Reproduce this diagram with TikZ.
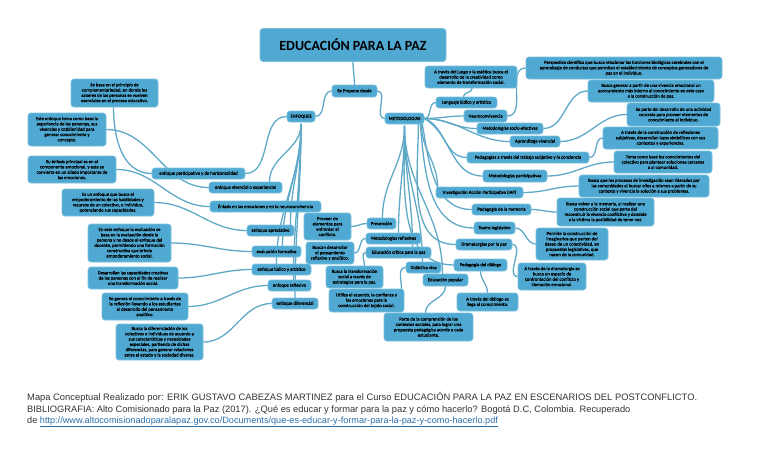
\documentclass[tikz,border=0pt]{standalone}
\usepackage{fontspec}
\setmainfont{Liberation Sans}
\newfontfamily\mapfont[FakeBold=0.6]{Carlito}
\newfontfamily\titlefont{Carlito}
\usetikzlibrary{backgrounds}
\definecolor{boxfill}{HTML}{4FA9D2}
\definecolor{boxedge}{HTML}{7CC0DC}
\definecolor{linkline}{HTML}{5FA9C8}
\definecolor{urlblue}{HTML}{2B6FA8}
\definecolor{foot}{HTML}{333333}
\tikzset{
  mapbox/.style={draw=boxedge,line width=0.7pt,fill=boxfill,rounded corners=3pt,inner sep=0pt,align=center,text=black},
  conn/.style={draw=linkline,line width=1.3pt,line cap=round},
  foottext/.style={anchor=base west,inner sep=0pt,text=foot}
}
% name, x1, y1, x2, y2, text
\newcommand{\nd}[6]{%
  \pgfmathsetmacro{\cx}{(#2+#4)/2}\pgfmathsetmacro{\cy}{(#3+#5)/2}%
  \pgfmathsetmacro{\ww}{#4-#2}\pgfmathsetmacro{\hh}{#5-#3}%
  \node[mapbox,minimum width=\ww pt,minimum height=\hh pt,font=\mapfont\fontsize{4.7}{5.3}\selectfont] (#1) at (\cx,\cy) {#6};}
\newcommand{\cv}[3][]{\draw[conn,#1] #2 to #3;}
\begin{document}
\begin{tikzpicture}[x=1pt,y=-1pt]
\useasboundingbox (0,0) rectangle (768,466);

\node[mapbox,minimum width=186pt,minimum height=33pt,font=\titlefont\bfseries\fontsize{14}{16}\selectfont] (title) at (353,45) {EDUCACIÓN PARA LA PAZ};
\nd{prop}{332}{85}{377}{97}{Se Propone desde}
\nd{enf}{287}{111}{315}{122}{ENFOQUES}
\nd{met}{385}{113}{424}{124}{METODOLOGIAS}

\nd{la}{71}{79}{158}{107}{Se basa en el principio de\\complementariedad, en donde los\\saberes de las personas se vuelven\\esenciales en el proceso educativo.}
\nd{lb}{28}{113}{106}{146}{Este enfoque toma como base la\\experiencia de las personas, sus\\vivencias y cotidianidad para\\generar conocimiento y\\concepto.}
\nd{lc}{28}{156}{116}{183}{Su énfasis principal es en el\\componente emocional, y este se\\convierte en un aliado importante de\\las emociones.}
\nd{ld}{62}{189}{154}{216}{Es un enfoque que busca el\\empoderamiento de las habilidades y\\recursos de un colectivo, o individuo,\\potenciando sus capacidades.}
\nd{le}{88}{224}{171}{262}{En este enfoque la evaluación se\\basa en la evaluación desde la\\persona y no desde el enfoque del\\docente, permitiendo una formación\\constructiva que brinda\\empoderamiento social.}
\nd{lf}{88}{267}{178}{289}{Desarrollan las capacidades creativas\\de las personas con el fin de realizar\\una transformación social.}
\nd{lg}{102}{293}{188}{320}{Se genera el conocimiento a través de\\la reflexión llevando a los estudiantes\\al desarrollo del pensamiento\\analítico.}
\nd{lh}{116}{324}{203}{360}{Busca la diferenciación de los\\colectivos e individuos de acuerdo a\\sus características y necesidades\\especiales, partiendo de dichas\\diferencias, para generar relaciones\\entre el estado y la sociedad diversa.}

\nd{ea}{152}{168}{245}{179}{enfoque participativo y de horizontalidad}
\nd{eb}{209}{182}{282}{193}{enfoque vivencial o experiencial}
\nd{ec}{210}{201}{321}{212}{Énfasis en las emociones y en la neuroconvivencia}
\nd{ed}{247}{225}{294}{236}{enfoque apreciativo}
\nd{ee}{252}{246}{301}{257}{evaluación formativa}
\nd{ef}{252}{264}{311}{275}{enfoque lúdico y artístico}
\nd{eg}{268}{280}{311}{291}{enfoque reflexivo}
\nd{eh}{272}{298}{318}{309}{enfoque diferencial}

\nd{prov}{304}{213}{351}{240}{Proveer de\\elementos para\\enfrentar el\\conflicto.}
\nd{prev}{367}{218}{396}{229}{Prevención}
\nd{mref}{366}{233}{421}{244}{Metodologías reflexivas}
\nd{bdes}{306}{242}{354}{264}{Buscan desarrollar\\el pensamiento\\reflexivo y analítico.}
\nd{ecri}{366}{247}{431}{258}{Educación crítica para la paz}
\nd{btra}{326}{266}{383}{288}{Busca la transformación\\social a través de\\estrategias para la paz.}
\nd{dida}{406}{262}{441}{273}{Didáctica viva}
\nd{util}{329}{289}{404}{312}{Utiliza el acuerdo, la confianza y\\las emociones para la\\construcción del tejido social.}
\nd{epop}{423}{274}{468}{286}{Educación popular}
\nd{part}{384}{313}{473}{341}{Parte de la comprensión de los\\contextos sociales, para lograr una\\propuesta pedagógica acorde a cada\\estudiante.}
\nd{pdia}{454}{259}{507}{271}{Pedagogía del diálogo}
\nd{adia}{457}{293}{518}{311}{A través del diálogo se\\llega al conocimiento.}

\nd{juego}{425}{66}{517}{88}{A través del juego y la estética busca el\\desarrollo de la creatividad como\\elemento de transformación social.}
\nd{leng}{436}{97}{497}{108}{Lenguaje lúdico y artístico}
\nd{neur}{464}{110}{507}{122}{Neuroconvivencia}
\nd{soci}{477}{123}{543}{134}{Metodologías socio-afectivas}
\nd{apre}{510}{136}{560}{147}{Aprendizaje vivencial}
\nd{peda}{467}{152}{589}{163}{Pedagogías a través del trabajo subjetivo y la conciencia}
\nd{mpar}{483}{170}{547}{182}{Metodologías participativas}
\nd{iap}{436}{187}{523}{198}{Investigación Acción Participativa (IAP)}
\nd{pmem}{472}{204}{531}{215}{Pedagogía de la memoria}
\nd{teat}{474}{222}{515}{234}{Teatro legislativo}
\nd{dram}{456}{239}{512}{250}{Dramaturgias por la paz}

\nd{ra}{526}{57}{722}{79}{Perspectiva científica que busca relacionar las funciones biológicas cerebrales con el\\aprendizaje de conductas que permitan el establecimiento de conceptos generadores de\\paz en el individuo.}
\nd{rb}{588}{80}{714}{102}{Busca generar a partir de una vivencia emocional un\\acercamiento más interno al conocimiento en este caso\\a la construcción de paz.}
\nd{rc}{627}{103}{720}{126}{Se parte del desarrollo de una actividad\\concreta para proveer elementos de\\conocimiento al individuo.}
\nd{rd}{603}{127}{718}{149}{A través de la construcción de reflexiones\\subjetivas, desarrollan lazos simbólicos con sus\\contextos y experiencias.}
\nd{re}{614}{151}{712}{173}{Toma como base los conocimientos del\\colectivo para plantear soluciones cercanas\\a al comunidad.}
\nd{rf}{579}{175}{709}{197}{Busca que los procesos de investigación sean liderados por\\las comunidades al buscar ellos a mismos a partir de su\\contexto y vivencia la solución a sus problemas.}
\nd{rg}{557}{198}{654}{226}{Busca volver a la memoria, al realizar una\\construcción social que parte del\\reconstruir la vivencia conflictiva y dandole\\a la víctima la posibilidad de tener voz.}
\nd{rh}{536}{228}{608}{260}{Permite la construcción de\\imaginarios que parten del\\deseo de un colectividad, en\\propuestas legislativas, que\\nacen de la comunidad.}
\nd{ri}{518}{263}{586}{290}{A través de la dramaturgia se\\busca un espacio de\\confrontación del conflicto y\\liberación emocional.}

\begin{pgfonlayer}{background}
\cv{(title.south)}{[out=270,in=90] (prop.north)}
\cv{(prop.west)}{[out=180,in=0] (enf.east)}
\cv{(prop.east)}{[out=0,in=180] (met.west)}
% ENFOQUES fan
\cv{(enf.west)}{[out=180,in=0] (ea.east)}
\cv{([yshift=-2pt]enf.south)}{[out=270,in=90] ([xshift=24pt]eb.north)}
\cv{([yshift=-2pt]enf.south)}{[out=270,in=90] ([xshift=33pt]ec.north)}
\cv{([yshift=-2pt]enf.south)}{[out=270,in=90] ([xshift=20pt]ed.north)}
\cv{([yshift=-2pt]enf.south)}{[out=270,in=90] ([xshift=6pt]ee.north)}
\cv{([yshift=-2pt]enf.south)}{[out=270,in=90] ([xshift=-5pt]ef.north)}
\cv{([yshift=-2pt]enf.south)}{[out=270,in=90] ([xshift=4pt]eg.north)}
\cv{([yshift=-2pt]enf.south)}{[out=270,in=90] (eh.north)}
% left leaves
\cv{([xshift=-1pt]la.south)}{[out=270,in=180] (ea.west)}
\cv{(lb.east)}{[out=0,in=180] (eb.west)}
\cv{(lc.east)}{[out=0,in=180] (ec.west)}
\cv{(ld.east)}{[out=0,in=180] (ed.west)}
\cv{(le.east)}{[out=0,in=180] (ee.west)}
\cv{(lf.east)}{[out=0,in=180] (ef.west)}
\cv{(lg.east)}{[out=0,in=180] (eg.west)}
\cv{(lh.east)}{[out=0,in=180] (eh.west)}
% METODOLOGIAS lower fan
\cv{([yshift=-2pt]met.south)}{[out=270,in=90] ([xshift=1pt]prev.north)}
\cv{([yshift=-2pt]met.south)}{[out=270,in=90] ([xshift=5pt]mref.north)}
\cv{([yshift=-2pt]met.south)}{[out=270,in=90] ([xshift=14pt]ecri.north)}
\cv{([yshift=-2pt]met.south)}{[out=270,in=90] ([xshift=-1pt]dida.north)}
\cv{([yshift=-2pt]met.south)}{[out=270,in=90] ([xshift=-3pt]epop.north)}
\cv{([yshift=-2pt]met.south)}{[out=270,in=180] (pdia.west)}
% METODOLOGIAS right fan
\cv{(met.east)}{[out=0,in=180] (leng.west)}
\cv{(met.east)}{[out=0,in=180] (neur.west)}
\cv{(met.east)}{[out=0,in=180] (soci.west)}
\cv{(met.east)}{[out=0,in=180] (apre.west)}
\cv{(met.east)}{[out=-20,in=180] (peda.west)}
\cv{(met.east)}{[out=-30,in=180] (mpar.west)}
\cv{([xshift=-3pt]met.south east)}{[out=270,in=90] ([xshift=-42pt]iap.north)}
\cv{([xshift=-2pt]met.south east)}{[out=280,in=180] (pmem.west)}
\cv{([xshift=-4pt]met.south east)}{[out=275,in=180] (teat.west)}
\cv{([xshift=-6pt]met.south east)}{[out=270,in=180] (dram.west)}
% centre leaves
\cv{(prev.west)}{[out=180,in=0] (prov.east)}
\cv{(mref.west)}{[out=180,in=0] (bdes.east)}
\cv{(ecri.west)}{[out=180,in=90] ([xshift=10pt]btra.north)}
\cv{(dida.west)}{[out=180,in=90] ([xshift=35pt]util.north)}
\cv{(epop.south)}{[out=270,in=90] ([xshift=-3pt]part.north)}
\cv{(pdia.south)}{[out=270,in=90] (adia.north)}
% right leaves
\cv{([xshift=-3pt]leng.north)}{[out=90,in=270] ([xshift=1pt]juego.south)}
\cv{(neur.east)}{[out=0,in=180] (ra.west)}
\cv{(soci.east)}{[out=0,in=180] (rb.west)}
\cv{(apre.east)}{[out=0,in=180] (rc.west)}
\cv{(peda.east)}{[out=0,in=180] (rd.west)}
\cv{(mpar.east)}{[out=0,in=180] (re.west)}
\cv{(iap.east)}{[out=0,in=180] (rf.west)}
\cv{(pmem.east)}{[out=0,in=180] (rg.west)}
\cv{(teat.east)}{[out=0,in=180] (rh.west)}
\cv{(dram.east)}{[out=0,in=180] (ri.west)}
\end{pgfonlayer}

\node[foottext,font=\fontsize{9.37}{11}\selectfont] (f1) at (27,400) {Mapa Conceptual Realizado por: ERIK GUSTAVO CABEZAS MARTINEZ para el Curso EDUCACIÓN PARA LA PAZ EN ESCENARIOS DEL POSTCONFLICTO.};
\node[foottext,font=\fontsize{9.3}{11}\selectfont] (f2) at (27,412) {BIBLIOGRAFIA: Alto Comisionado para la Paz (2017). ¿Qué es educar y formar para la paz y cómo hacerlo? Bogotá D.C, Colombia. Recuperado};
\node[foottext,font=\fontsize{9.15}{11}\selectfont] (f3) at (27,423) {de \textcolor{urlblue}{\underline{http://www.altocomisionadoparalapaz.gov.co/Documents/que-es-educar-y-formar-para-la-paz-y-como-hacerlo.pdf}}};
\end{tikzpicture}
\end{document}
